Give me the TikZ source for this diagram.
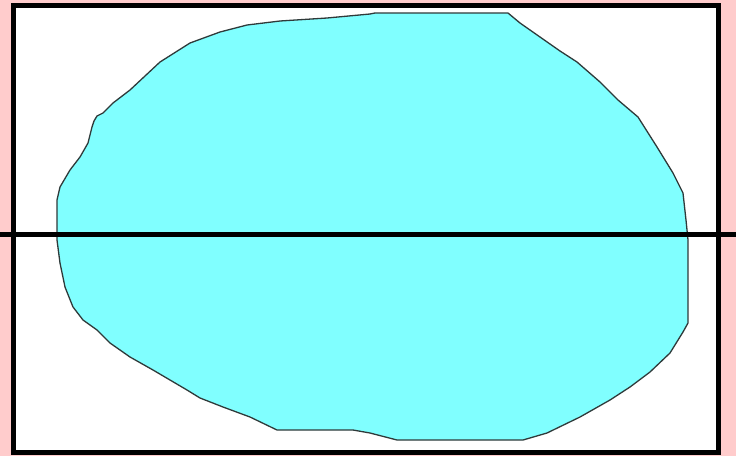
\documentclass[tikz,border=0pt]{standalone}
\usepackage{tikz}

\definecolor{bgpink}{HTML}{FFCCCC}
\definecolor{blobcyan}{HTML}{80FFFF}
\definecolor{edgegray}{HTML}{2F3A3A}

\begin{document}
\begin{tikzpicture}[
      x=1pt, y=-1pt,
      frame/.style={draw=black, line width=5pt, fill=white},
      blob/.style={draw=edgegray, line width=1.3pt, fill=blobcyan, line join=round},
      cutline/.style={draw=black, line width=4.5pt},
    ]
      % background and bounding box
      \fill[bgpink] (0,0) rectangle (736,456);
      \useasboundingbox (0,0) rectangle (736,456);
      % frame
      \path[frame] (13.5,5.5) rectangle (718.5,452);
      % region
      \path[blob] (375,13) -- (508,13) -- (520,23) -- (540,37) -- (560,51)
        -- (577,62) -- (600,82) -- (618,100) -- (638,117) -- (657,147)
        -- (673,173) -- (683,193) -- (686,220) -- (688,240) -- (688,323)
        -- (683,332) -- (670,353) -- (650,372) -- (630,387) -- (610,400)
        -- (580,417) -- (547,433) -- (523,440) -- (397,440) -- (370,433)
        -- (353,430) -- (277,430) -- (250,417) -- (223,407) -- (200,398)
        -- (187,390) -- (153,370) -- (130,357) -- (110,343) -- (97,330)
        -- (83,320) -- (73,307) -- (65,287) -- (60,263) -- (57,240)
        -- (57,200) -- (60,187) -- (70,170) -- (80,157) -- (88,143)
        -- (92,127) -- (94,121) -- (97,116) -- (103,113) -- (113,103)
        -- (130,90) -- (160,62) -- (190,43) -- (220,32) -- (247,25)
        -- (280,21) -- (327,18) -- (370,14) -- cycle;
      % dividing line
      \coordinate (cutW) at (0,234.5);
      \coordinate (cutE) at (736,234.5);
      \path[cutline] (cutW) -- (cutE);
    \end{tikzpicture}
\end{document}
